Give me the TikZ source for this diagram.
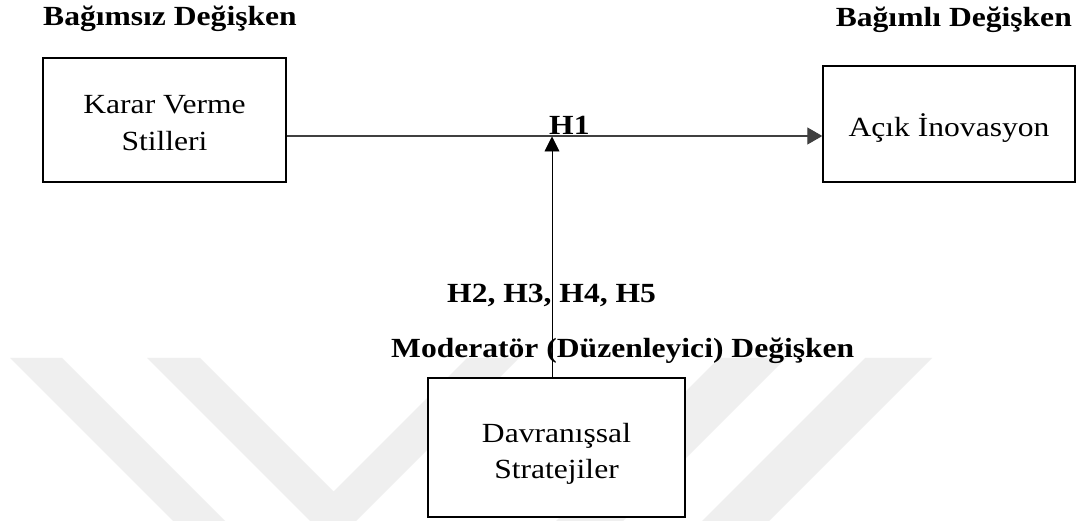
\documentclass[tikz,border=0pt]{standalone}
\usepackage{fontspec}
\setmainfont{Liberation Serif}[FakeStretch=1.14]
\usetikzlibrary{arrows.meta}
\definecolor{wmgray}{RGB}{239,239,239}
\definecolor{linegray}{RGB}{64,64,64}
\begin{document}
\begin{tikzpicture}[x=1pt,y=-1pt,
  box/.style={draw, line width=1.4pt, fill=white, align=center, inner sep=0pt,
    font=\fontsize{27.7}{37}\selectfont},
  hdr/.style={inner sep=0pt, font=\bfseries\fontsize{27.7}{33}\selectfont},
  wm/.style={fill=wmgray, draw=none},
  conn/.style={line width=1.2pt, draw=linegray, -{Triangle[length=15pt,width=17pt]}},
  modconn/.style={line width=0.9pt, draw=black, -{Triangle[length=15pt,width=15pt]}}]
\useasboundingbox (0,0) rectangle (1082,521);
\fill[white] (0,0) rectangle (1082,521);
% watermark
\begin{scope}
\clip (0,0) rectangle (1082,521);
\fill[wm] (10,358) -- (62,358) -- (225,521) -- (173,521) -- cycle;
\fill[wm] (147,358) -- (200,358) -- (333.5,491.5) -- (467,358) -- (519,358) -- (333,544) -- cycle;
\fill[wm] (719,358) -- (786,358) -- (623,521) -- (556,521) -- cycle;
\fill[wm] (865,358) -- (932,358) -- (769,521) -- (702,521) -- cycle;
\end{scope}
% headers
\node[hdr, anchor=base west] (hind) at (43,26) {Bağımsız Değişken};
\node[hdr, anchor=base east] (hdep) at (1072,27) {Bağımlı Değişken};
% boxes
\node[box, minimum width=243pt, minimum height=124pt] (kv) at (164.5,120) {\rule{0pt}{25pt}Karar Verme\\Stilleri};
\node[box, minimum width=252pt, minimum height=116pt, text height=25pt, text depth=0pt] (ai) at (949,124) {Açık İnovasyon};
\coordinate (m) at (552,136);
% connectors
\draw[conn] (kv.east |- m) -- (ai.west |- m);
\node[box, minimum width=257pt, minimum height=139pt, font=\fontsize{27.7}{36}\selectfont] (ds) at (556.5,447.5) {\rule{0pt}{31pt}Davranışsal\\Stratejiler};
\draw[modconn] (ds.north -| m) -- ([yshift=-0.5pt]m);
% labels
\node[hdr, anchor=base west] (h1) at (549,135) {H1};
\node[hdr, anchor=base west] (h25) at (447,303) {H2, H3, H4, H5};
\node[hdr, anchor=base west] (hmod) at (391,358) {Moderatör (Düzenleyici) Değişken};
\end{tikzpicture}
\end{document}
